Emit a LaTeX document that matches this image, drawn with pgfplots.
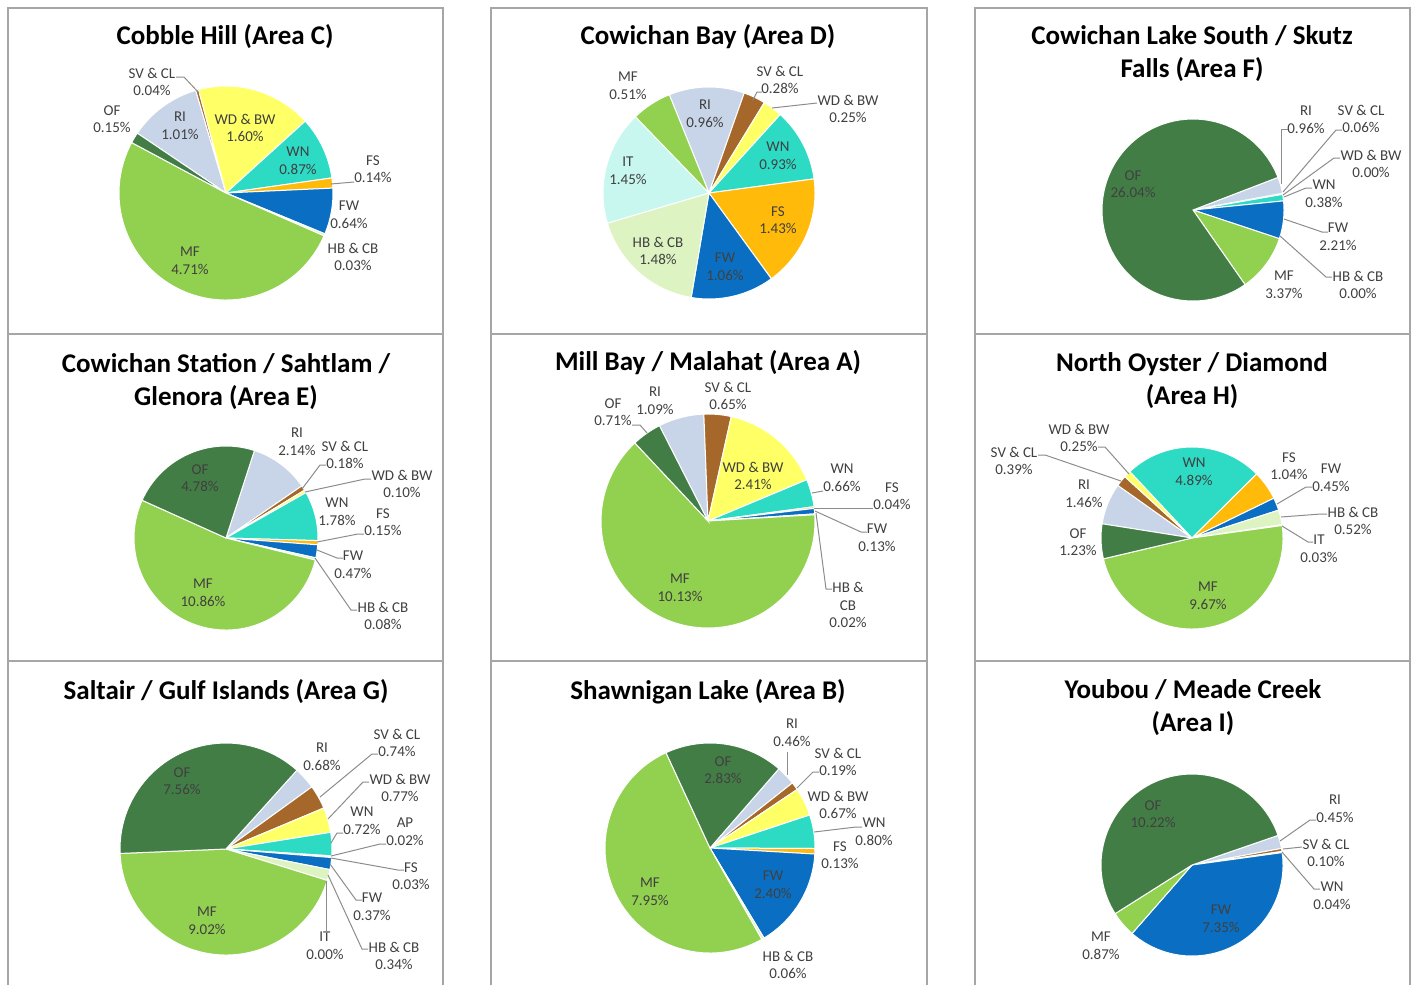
\documentclass[border=0pt]{standalone}
\usepackage{pgfplots}
\pgfplotsset{compat=1.18}
\usepackage{pgfplotstable}
\usepackage{fontspec}
\setmainfont{Carlito}

\definecolor{cRI}{HTML}{C8D5E8}
\definecolor{cSV}{HTML}{A5672A}
\definecolor{cWD}{HTML}{FFFF66}
\definecolor{cWN}{HTML}{2DDAC4}
\definecolor{cAP}{HTML}{7F7F7F}
\definecolor{cFS}{HTML}{FFBA0A}
\definecolor{cFW}{HTML}{0A6FC2}
\definecolor{cHB}{HTML}{DDF4C2}
\definecolor{cIT}{HTML}{C8F7EF}
\definecolor{cMF}{HTML}{92D050}
\definecolor{cOF}{HTML}{437D46}
\definecolor{txt}{HTML}{404040}
\definecolor{lead}{HTML}{8C8C8C}
\definecolor{frame}{HTML}{A6A6A6}

% slices listed clockwise, starting with RI
\pgfplotstableread{
v c
1.01 cRI
0.04 cSV
1.60 cWD
0.87 cWN
0.14 cFS
0.64 cFW
0.03 cHB
4.71 cMF
0.15 cOF
}\tblC
\pgfplotstableread{
v c
0.96 cRI
0.28 cSV
0.25 cWD
0.93 cWN
1.43 cFS
1.06 cFW
1.48 cHB
1.45 cIT
0.51 cMF
}\tblD
\pgfplotstableread{
v c
0.96 cRI
0.06 cSV
0.38 cWN
2.21 cFW
3.37 cMF
26.04 cOF
}\tblF
\pgfplotstableread{
v c
2.14 cRI
0.18 cSV
0.10 cWD
1.78 cWN
0.15 cFS
0.47 cFW
0.08 cHB
10.86 cMF
4.78 cOF
}\tblE
\pgfplotstableread{
v c
1.09 cRI
0.65 cSV
2.41 cWD
0.66 cWN
0.04 cFS
0.13 cFW
0.02 cHB
10.13 cMF
0.71 cOF
}\tblA
\pgfplotstableread{
v c
1.46 cRI
0.39 cSV
0.25 cWD
4.89 cWN
1.04 cFS
0.45 cFW
0.52 cHB
0.03 cIT
9.67 cMF
1.23 cOF
}\tblH
\pgfplotstableread{
v c
0.68 cRI
0.74 cSV
0.77 cWD
0.72 cWN
0.02 cAP
0.03 cFS
0.37 cFW
0.34 cHB
9.02 cMF
7.56 cOF
}\tblG
\pgfplotstableread{
v c
0.46 cRI
0.19 cSV
0.67 cWD
0.80 cWN
0.13 cFS
2.40 cFW
0.06 cHB
7.95 cMF
2.83 cOF
}\tblB
\pgfplotstableread{
v c
0.45 cRI
0.10 cSV
0.04 cWN
7.35 cFW
0.87 cMF
10.22 cOF
}\tblI

% \pie{cx}{cy}{radius px}{first angle, deg clockwise from top}{table}
\newcommand{\pie}[5]{%
  \pgfplotstablegetrowsof{#5}\pgfmathtruncatemacro\N{\pgfplotsretval-1}%
  \def\tot{0}%
  \pgfplotsforeachungrouped \i in {0,...,\N}{%
    \pgfplotstablegetelem{\i}{v}\of{#5}%
    \pgfmathsetmacro\tot{\tot+\pgfplotsretval}}%
  \pgfmathsetmacro\acc{#4}%
  \pgfmathsetmacro\R{0.5*#3}%
  \pgfplotsforeachungrouped \i in {0,...,\N}{%
    \pgfplotstablegetelem{\i}{v}\of{#5}\let\sv\pgfplotsretval
    \pgfplotstablegetelem{\i}{c}\of{#5}\let\sc\pgfplotsretval
    \pgfmathsetmacro\ta{90-\acc}%
    \pgfmathsetmacro\acc{\acc+360*\sv/\tot}%
    \pgfmathsetmacro\tb{90-\acc}%
    \edef\doit{\noexpand\fill[fill=\sc,draw=white,line width=0.5pt]
      (axis cs:#1,#2) -- ++(\ta:\R pt) arc[start angle=\ta,end angle=\tb,radius=\R pt] -- cycle;}%
    \doit}%
}
\newcommand{\lb}[3]{\node[lbl] at (axis cs:#1,#2) {#3};}

\begin{document}
\begin{tikzpicture}[
  ttl/.style={font=\fontsize{13.5}{16.5}\selectfont\bfseries, align=center, inner sep=0pt},
  lbl/.style={font=\fontsize{7.5}{8.8}\selectfont, text=txt, align=center, inner sep=0pt},
  ld/.style={draw=lead, line width=0.5pt},
  panel/.style={draw=frame, line width=1pt}]
\begin{axis}[hide axis, scale only axis, width=708pt, height=492.5pt,
  xmin=0, xmax=1416, ymin=0, ymax=985, y dir=reverse, clip=false]

% frames
\draw[panel] (axis cs:8,8) rectangle (axis cs:443,334);
\draw[panel] (axis cs:491,8) rectangle (axis cs:927,334);
\draw[panel] (axis cs:975,8) rectangle (axis cs:1410,334);
\draw[panel] (axis cs:8,334) rectangle (axis cs:443,661);
\draw[panel] (axis cs:491,334) rectangle (axis cs:927,661);
\draw[panel] (axis cs:975,334) rectangle (axis cs:1410,661);
\draw[panel] (axis cs:8,985) -- (axis cs:8,661) -- (axis cs:443,661) -- (axis cs:443,985);
\draw[panel] (axis cs:491,985) -- (axis cs:491,661) -- (axis cs:927,661) -- (axis cs:927,985);
\draw[panel] (axis cs:975,985) -- (axis cs:975,661) -- (axis cs:1410,661) -- (axis cs:1410,985);

% titles
\node[ttl] at (axis cs:225,37) {Cobble Hill (Area C)};
\node[ttl] at (axis cs:708,37) {Cowichan Bay (Area D)};
\node[ttl] at (axis cs:1192,53.5) {Cowichan Lake South / Skutz\\Falls (Area F)};
\node[ttl] at (axis cs:226,381.5) {Cowichan Station / Sahtlam /\\Glenora (Area E)};
\node[ttl] at (axis cs:708,363) {Mill Bay / Malahat (Area A)};
\node[ttl] at (axis cs:1192,380.5) {North Oyster / Diamond\\(Area H)};
\node[ttl] at (axis cs:226,692) {Saltair / Gulf Islands (Area G)};
\node[ttl] at (axis cs:708,692) {Shawnigan Lake (Area B)};
\node[ttl] at (axis cs:1193,707.5) {Youbou / Meade Creek\\(Area I)};

% pies
\pie{226}{193}{107}{-56}{\tblC}
\pie{709}{193}{106}{-22}{\tblD}
\pie{1193}{210}{91}{69}{\tblF}
\pie{226}{538}{92}{18}{\tblE}
\pie{708}{521}{107}{-27}{\tblA}
\pie{1192}{538}{91}{-81}{\tblH}
\pie{226}{849}{106}{42}{\tblG}
\pie{710}{848}{105}{41}{\tblB}
\pie{1192}{865}{91}{71}{\tblI}

% Area C labels
\lb{152}{82}{SV \& CL\\0.04\%}
\lb{112}{119}{OF\\0.15\%}
\lb{180}{126}{RI\\1.01\%}
\lb{245}{128}{WD \& BW\\1.60\%}
\lb{298}{161}{WN\\0.87\%}
\lb{373}{169}{FS\\0.14\%}
\lb{349}{215}{FW\\0.64\%}
\lb{353}{257}{HB \& CB\\0.03\%}
\lb{190}{261}{MF\\4.71\%}
\draw[ld] (axis cs:176,77) -- (axis cs:184,77) -- (axis cs:199,93);
\draw[ld] (axis cs:354,182) -- (axis cs:331,184);

% Area D labels
\lb{628}{86}{MF\\0.51\%}
\lb{705}{114}{RI\\0.96\%}
\lb{780}{80}{SV \& CL\\0.28\%}
\lb{848}{109}{WD \& BW\\0.25\%}
\lb{778}{156}{WN\\0.93\%}
\lb{778}{220}{FS\\1.43\%}
\lb{725}{267}{FW\\1.06\%}
\lb{658}{251}{HB \& CB\\1.48\%}
\lb{628}{171}{IT\\1.45\%}
\draw[ld] (axis cs:762,92) -- (axis cs:757,92) -- (axis cs:753,100);
\draw[ld] (axis cs:817,103) -- (axis cs:772,108);

% Area F labels
\lb{1133}{184}{OF\\26.04\%}
\lb{1306}{120}{RI\\0.96\%}
\lb{1361}{119}{SV \& CL\\0.06\%}
\lb{1371}{164}{WD \& BW\\0.00\%}
\lb{1324}{194}{WN\\0.38\%}
\lb{1338}{237}{FW\\2.21\%}
\lb{1358}{285}{HB \& CB\\0.00\%}
\lb{1284}{285}{MF\\3.37\%}
\draw[ld] (axis cs:1288,129) -- (axis cs:1281,129) -- (axis cs:1281,184);
\draw[ld] (axis cs:1342,130) -- (axis cs:1336,130) -- (axis cs:1283,192);
\draw[ld] (axis cs:1340,158) -- (axis cs:1334,158) -- (axis cs:1283,195);
\draw[ld] (axis cs:1312,188) -- (axis cs:1306,188) -- (axis cs:1284,197);
\draw[ld] (axis cs:1328,232) -- (axis cs:1322,232) -- (axis cs:1284,219);
\draw[ld] (axis cs:1332,277) -- (axis cs:1326,277) -- (axis cs:1280,236);

% Area E labels
\lb{200}{478}{OF\\4.78\%}
\lb{297}{442}{RI\\2.14\%}
\lb{345}{455}{SV \& CL\\0.18\%}
\lb{402}{484}{WD \& BW\\0.10\%}
\lb{337}{512}{WN\\1.78\%}
\lb{383}{522}{FS\\0.15\%}
\lb{353}{565}{FW\\0.47\%}
\lb{383}{616}{HB \& CB\\0.08\%}
\lb{203}{593}{MF\\10.86\%}
\draw[ld] (axis cs:326,465) -- (axis cs:320,465) -- (axis cs:302,489);
\draw[ld] (axis cs:371,479) -- (axis cs:365,479) -- (axis cs:305,492);
\draw[ld] (axis cs:364,534) -- (axis cs:358,534) -- (axis cs:317,542);
\draw[ld] (axis cs:343,558) -- (axis cs:337,558) -- (axis cs:317,550);
\draw[ld] (axis cs:357,610) -- (axis cs:351,610) -- (axis cs:315,558);

% Area A labels
\lb{613}{412}{OF\\0.71\%}
\lb{655}{401}{RI\\1.09\%}
\lb{728}{396}{SV \& CL\\0.65\%}
\lb{753}{476}{WD \& BW\\2.41\%}
\lb{842}{478}{WN\\0.66\%}
\lb{892}{496}{FS\\0.04\%}
\lb{877}{538}{FW\\0.13\%}
\lb{848}{605}{HB \&\\CB\\0.02\%}
\lb{680}{588}{MF\\10.13\%}
\draw[ld] (axis cs:632,425) -- (axis cs:640,425) -- (axis cs:647,433);
\draw[ld] (axis cs:823,491) -- (axis cs:812,493);
\draw[ld] (axis cs:873,508) -- (axis cs:814,508);
\draw[ld] (axis cs:867,532) -- (axis cs:861,532) -- (axis cs:815,511);
\draw[ld] (axis cs:832,589) -- (axis cs:826,589) -- (axis cs:816,513);

% Area H labels
\lb{1079}{438}{WD \& BW\\0.25\%}
\lb{1014}{461}{SV \& CL\\0.39\%}
\lb{1084}{494}{RI\\1.46\%}
\lb{1078}{542}{OF\\1.23\%}
\lb{1194}{472}{WN\\4.89\%}
\lb{1289}{466}{FS\\1.04\%}
\lb{1331}{478}{FW\\0.45\%}
\lb{1353}{521}{HB \& CB\\0.52\%}
\lb{1319}{549}{IT\\0.03\%}
\lb{1208}{596}{MF\\9.67\%}
\draw[ld] (axis cs:1098,447) -- (axis cs:1105,447) -- (axis cs:1129,474);
\draw[ld] (axis cs:1038,455) -- (axis cs:1045,455) -- (axis cs:1121,481);
\draw[ld] (axis cs:1312,487) -- (axis cs:1306,487) -- (axis cs:1277,504);
\draw[ld] (axis cs:1327,514) -- (axis cs:1321,514) -- (axis cs:1281,517);
\draw[ld] (axis cs:1313,542) -- (axis cs:1308,542) -- (axis cs:1282,526);

% Area G labels
\lb{182}{781}{OF\\7.56\%}
\lb{322}{757}{RI\\0.68\%}
\lb{397}{743}{SV \& CL\\0.74\%}
\lb{400}{788}{WD \& BW\\0.77\%}
\lb{362}{821}{WN\\0.72\%}
\lb{405}{832}{AP\\0.02\%}
\lb{411}{876}{FS\\0.03\%}
\lb{372}{907}{FW\\0.37\%}
\lb{394}{956}{HB \& CB\\0.34\%}
\lb{325}{946}{IT\\0.00\%}
\lb{207}{921}{MF\\9.02\%}
\draw[ld] (axis cs:378,754) -- (axis cs:372,754) -- (axis cs:320,797);
\draw[ld] (axis cs:369,782) -- (axis cs:363,782) -- (axis cs:328,819);
\draw[ld] (axis cs:343,833) -- (axis cs:337,833) -- (axis cs:331,843);
\draw[ld] (axis cs:386,844) -- (axis cs:380,844) -- (axis cs:331,856);
\draw[ld] (axis cs:404,870) -- (axis cs:398,870) -- (axis cs:331,858);
\draw[ld] (axis cs:362,900) -- (axis cs:356,900) -- (axis cs:330,864);
\draw[ld] (axis cs:368,949) -- (axis cs:362,949) -- (axis cs:328,875);
\draw[ld] (axis cs:326,933) -- (axis cs:326,881);

% Area B labels
\lb{792}{733}{RI\\0.46\%}
\lb{838}{762}{SV \& CL\\0.19\%}
\lb{838}{805}{WD \& BW\\0.67\%}
\lb{874}{832}{WN\\0.80\%}
\lb{840}{855}{FS\\0.13\%}
\lb{773}{885}{FW\\2.40\%}
\lb{788}{965}{HB \& CB\\0.06\%}
\lb{723}{770}{OF\\2.83\%}
\lb{650}{892}{MF\\7.95\%}
\draw[ld] (axis cs:787,752) -- (axis cs:787,775);
\draw[ld] (axis cs:819,772) -- (axis cs:813,772) -- (axis cs:797,788);
\draw[ld] (axis cs:862,827) -- (axis cs:856,827) -- (axis cs:814,832);

% Area I labels
\lb{1335}{809}{RI\\0.45\%}
\lb{1326}{853}{SV \& CL\\0.10\%}
\lb{1332}{896}{WN\\0.04\%}
\lb{1153}{814}{OF\\10.22\%}
\lb{1221}{919}{FW\\7.35\%}
\lb{1101}{946}{MF\\0.87\%}
\draw[ld] (axis cs:1316,820) -- (axis cs:1310,820) -- (axis cs:1280,841);
\draw[ld] (axis cs:1302,847) -- (axis cs:1283,849);
\draw[ld] (axis cs:1320,889) -- (axis cs:1314,889) -- (axis cs:1282,852);
\end{axis}
\pgfresetboundingbox
\path[use as bounding box] (0,0) rectangle (708pt,492.5pt);
\end{tikzpicture}
\end{document}
